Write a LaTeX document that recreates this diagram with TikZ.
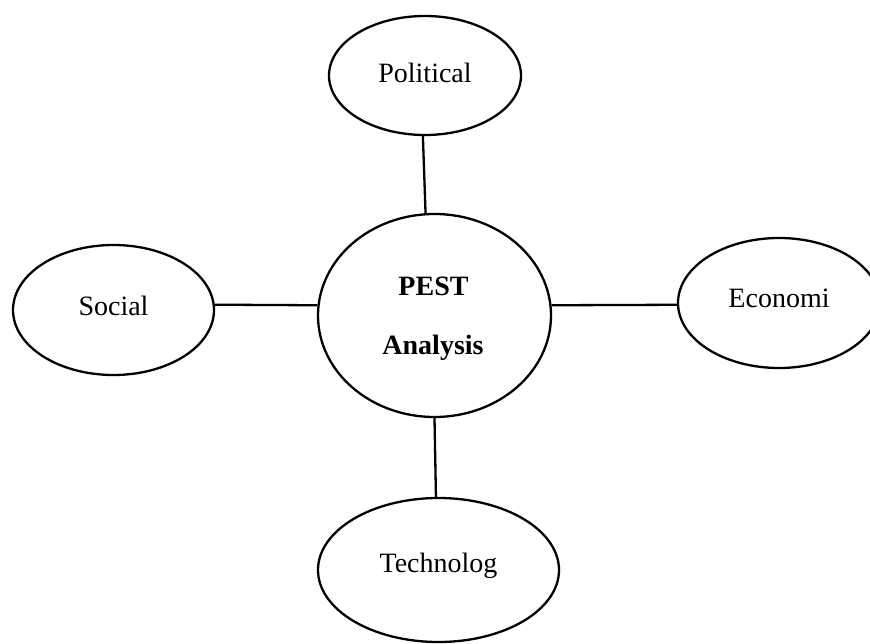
\documentclass[tikz,border=0pt]{standalone}
\usepackage{fontspec}
\setmainfont{Liberation Serif}
\usetikzlibrary{shapes.geometric}
\tikzset{
  bubble/.style={draw=black, line width=2.3pt, ellipse, inner sep=0pt,
    font=\fontsize{28}{34}\selectfont},
  link/.style={draw=black, line width=2.3pt},
  boldtxt/.style={anchor=base, inner sep=0pt, font=\fontsize{28}{34}\selectfont\bfseries}
}
\begin{document}
\begin{tikzpicture}[x=1pt,y=-1pt]
\useasboundingbox[fill=white] (0,0) rectangle (870,644);
\node[bubble, minimum width=192pt, minimum height=119pt, text height=19pt, text depth=4pt] (pol) at (425,75.5) {Political};
\node[bubble, minimum width=201pt, minimum height=130pt, text height=20pt, text depth=8pt] (soc) at (113.5,310) {Social};
\node[bubble, minimum width=202pt, minimum height=130pt, text height=20pt, text depth=10pt] (eco) at (779,303) {Economi};
\node[bubble, minimum width=241pt, minimum height=144pt, text height=20pt, text depth=16pt] (tech) at (438.5,570) {Technolog};
\node[bubble, minimum width=233pt, minimum height=203pt] (c) at (434.5,315.5) {};
\node[boldtxt] (pest) at (433.5,296) {PEST};
\node[boldtxt] (ana) at (433,354) {Analysis};
\draw[link] (pol.268) -- (c.95);
\draw[link] (c.270) -- (tech.92);
\draw[link] (soc.3) -- (c.175);
\draw[link] (c.5) -- (eco.181);
\end{tikzpicture}
\end{document}
